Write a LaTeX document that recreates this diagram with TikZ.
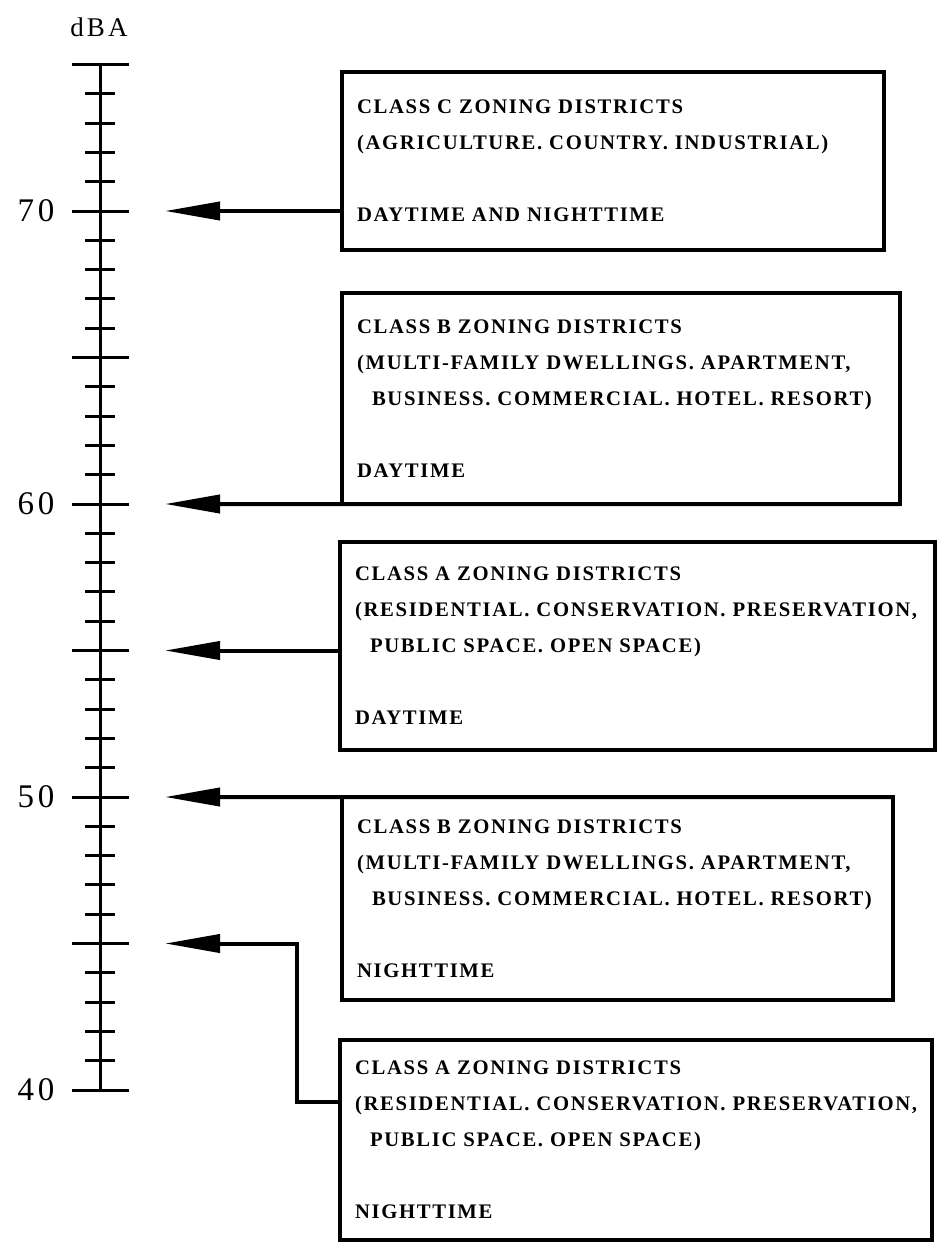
\documentclass[tikz,border=0pt]{standalone}
\usepackage{fontspec}
\setmainfont{Liberation Serif}
\newfontfamily\boxfont[LetterSpace=8]{Liberation Serif Bold}
\newfontfamily\scalefont[LetterSpace=12]{Liberation Serif}
\DeclareRobustCommand{\zonefont}{\boxfont\fontsize{20.7}{36}\selectfont}
\usetikzlibrary{arrows.meta}

\begin{document}
\begin{tikzpicture}[x=1pt,y=-1pt,
    zonebox/.style={draw,line width=4.5pt,outer sep=0pt,align=left,inner xsep=15pt,
      font=\zonefont},
    levelarrow/.style={line width=4pt,-{Triangle[length=55pt,width=18pt]}},
    scaletick/.style={line width=3pt}]
\useasboundingbox (0,0) rectangle (940,1245);

% dBA scale
\draw[line width=3pt] (100,64.5) -- (100,1090);
\foreach \d in {40,...,75} {
  \coordinate (t\d) at (100,{1090-(\d-40)*29.3});
  \coordinate (a\d) at (165,{1090-(\d-40)*29.3});
  \draw[scaletick] ([xshift=-15pt]t\d) -- ([xshift=15pt]t\d);
}
\foreach \d in {40,45,...,75}
  \draw[scaletick] ([xshift=-28pt]t\d) -- ([xshift=29pt]t\d);
\foreach \d in {40,50,60,70}
  \node[font=\scalefont\fontsize{33}{33}\selectfont] (l\d) at ([xshift=-64pt]t\d) {\d};
\node[font=\scalefont\fontsize{27}{27}\selectfont] (unit) at (99,27) {dBA};

% zoning boxes
\node[zonebox,anchor=north west,text width=512pt,minimum height=178pt] (classC) at (342,72)
  {CLASS C ZONING DISTRICTS\\(AGRICULTURE. COUNTRY. INDUSTRIAL)\\[36pt]DAYTIME AND NIGHTTIME};
\node[zonebox,anchor=south west,text width=528pt,minimum height=211pt] (classBday) at (342,504)
  {CLASS B ZONING DISTRICTS\\(MULTI-FAMILY DWELLINGS. APARTMENT,\\\hspace*{15pt}BUSINESS. COMMERCIAL. HOTEL. RESORT)\\[36pt]DAYTIME};
\node[zonebox,anchor=north west,text width=565pt,minimum height=208pt] (classAday) at (340,542)
  {CLASS A ZONING DISTRICTS\\(RESIDENTIAL. CONSERVATION. PRESERVATION,\\\hspace*{15pt}PUBLIC SPACE. OPEN SPACE)\\[36pt]DAYTIME};
\node[zonebox,anchor=north west,text width=521pt,minimum height=203pt] (classBnight) at (342,797)
  {CLASS B ZONING DISTRICTS\\(MULTI-FAMILY DWELLINGS. APARTMENT,\\\hspace*{15pt}BUSINESS. COMMERCIAL. HOTEL. RESORT)\\[36pt]NIGHTTIME};
\node[zonebox,anchor=north west,text width=562pt,minimum height=200pt] (classAnight) at (340,1040)
  {CLASS A ZONING DISTRICTS\\(RESIDENTIAL. CONSERVATION. PRESERVATION,\\\hspace*{15pt}PUBLIC SPACE. OPEN SPACE)\\[36pt]NIGHTTIME};

% arrows to the levels
\coordinate (bend) at (297,1102);
\draw[levelarrow] (a70 -| classC.west) -- (a70);
\draw[levelarrow] (classBday.south east) -- (a60);
\draw[levelarrow] (a55 -| classAday.west) -- (a55);
\draw[levelarrow] (classBnight.north east) -- (a50);
\draw[levelarrow] (bend -| classAnight.west) -- (bend) |- (a45);
\end{tikzpicture}
\end{document}
